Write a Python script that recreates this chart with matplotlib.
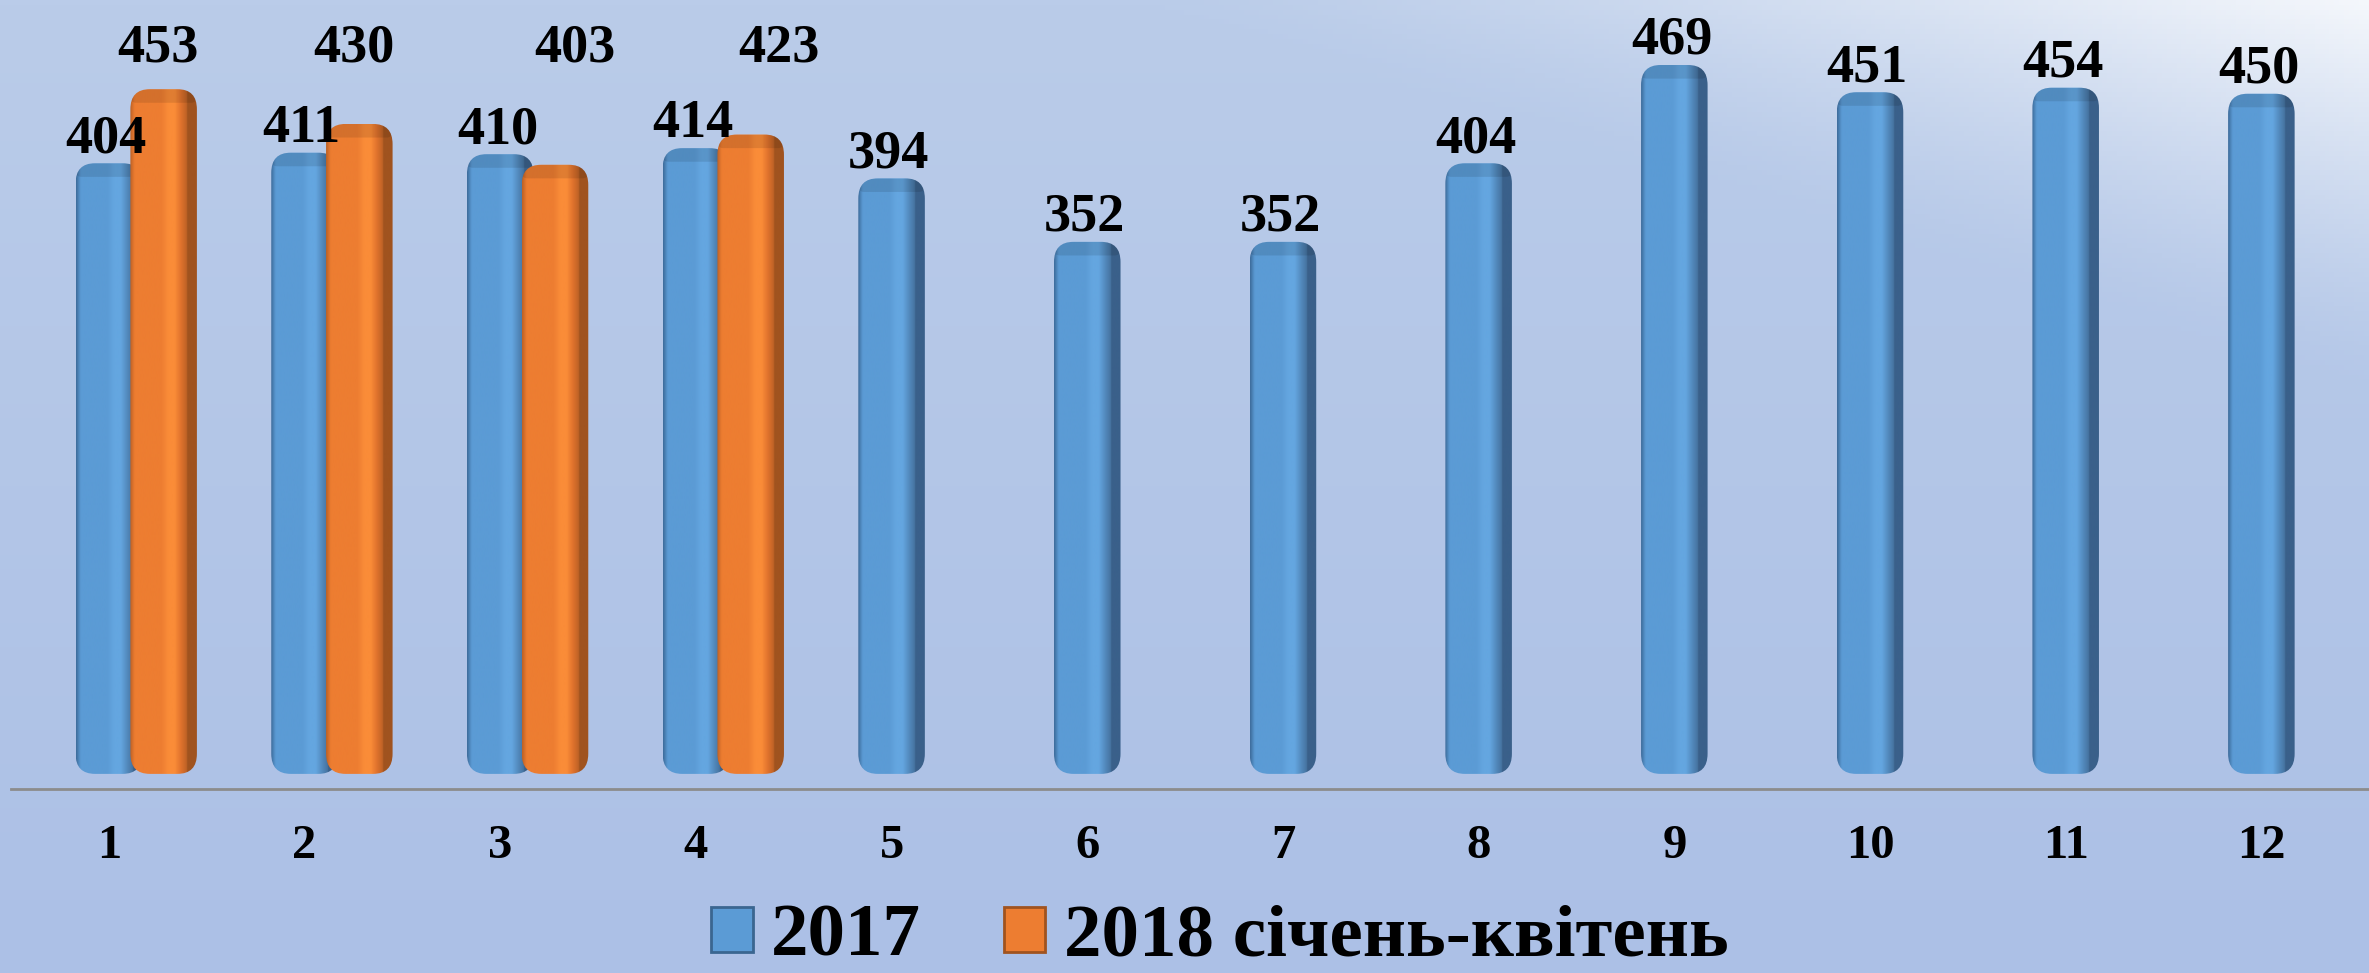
import numpy as np
import matplotlib
matplotlib.use('Agg')
import matplotlib.pyplot as plt
from matplotlib.patches import FancyBboxPatch, Rectangle

months = [1, 2, 3, 4, 5, 6, 7, 8, 9, 10, 11, 12]
values_2017 = [404, 411, 410, 414, 394, 352, 352, 404, 469, 451, 454, 450]
values_2018 = [453, 430, 403, 423]
label_2017 = '2017'
label_2018 = '2018 січень-квітень'

W, H = 2369, 973
FONT = 'Liberation Serif'

# colour profile across a bar (left edge -> lit strip -> dark side)
stops = [0.0, 0.07, 0.47, 0.57, 0.67, 0.76, 0.85, 0.86, 1.0]
blue_cols = [(62, 109, 156), (91, 155, 213), (91, 155, 213), (100, 166, 224),
             (100, 166, 224), (84, 140, 192), (70, 115, 160), (58, 96, 138), (58, 96, 138)]
orange_cols = [(190, 98, 38), (237, 125, 49), (237, 125, 49), (250, 140, 56),
               (250, 140, 56), (225, 115, 45), (190, 98, 38), (160, 83, 31), (160, 83, 31)]

# the 2018 labels were hand-placed in the original, nudged sideways (points)
label_nudge_2018 = [-4, -4, 14, 20]


def gradient_row(cols, n=120):
    t = np.linspace(0, 1, n)
    cols = np.array(cols) / 255.0
    row = np.stack([np.interp(t, stops, cols[:, k]) for k in range(3)], axis=-1)
    return row[np.newaxis, :, :]


def draw_bar(ax, xc, h, width, cols, z):
    x0 = xc - width / 2
    style = 'round,pad=0,rounding_size=0.1'
    patch = FancyBboxPatch((x0, 0), width, h, boxstyle=style,
                           mutation_aspect=133, facecolor='none',
                           edgecolor='none', zorder=z)
    ax.add_patch(patch)
    img = ax.imshow(gradient_row(cols), extent=[x0, x0 + width, 0, h],
                    aspect='auto', interpolation='bilinear', zorder=z)
    img.set_clip_path(patch)
    # darker top bevel
    cap = FancyBboxPatch((x0, h - 9), width, 9, boxstyle='round,pad=0,rounding_size=0.03',
                         mutation_aspect=133, facecolor='black', alpha=0.10,
                         edgecolor='none', zorder=z + 0.1)
    ax.add_patch(cap)
    cap.set_clip_path(patch)


fig = plt.figure(figsize=(W / 100, H / 100), dpi=100)

# background gradient
bg = fig.add_axes([0, 0, 1, 1], zorder=-10)
yy, xx = np.mgrid[0:1:200j, 0:1:480j]
top = np.array([186, 204, 233]) / 255.0
bot = np.array([172, 192, 230]) / 255.0
base = top[None, None, :] * (1 - yy[..., None]) + bot[None, None, :] * yy[..., None]
L = xx - 1.3 * yy
w = np.clip((L - 0.48) / 0.52, 0, 1) ** 1.4 * 0.85
img = base + w[..., None] * (1 - base)
bg.imshow(img, extent=[0, 1, 0, 1], aspect='auto', origin='upper')
bg.axis('off')

ax = fig.add_axes([11 / W, (H - 789) / H, (W - 11) / W, 789 / H])
ax.patch.set_alpha(0)

bar_w = 0.34
offset = 0.28
x = np.array(months, dtype=float)

for xi, v in zip(x, values_2017):
    draw_bar(ax, xi, v, bar_w, blue_cols, 2)
    ax.annotate(str(v), (xi, v), xytext=(-2, 8), textcoords='offset points',
                ha='center', va='baseline', fontsize=39, fontweight='bold',
                family=FONT, zorder=5)

for xi, v, dx in zip(x[:len(values_2018)] + offset, values_2018, label_nudge_2018):
    draw_bar(ax, xi, v, bar_w, orange_cols, 3)
    ax.annotate(str(v), (xi, 471), xytext=(dx, 0), textcoords='offset points',
                ha='center', va='baseline', fontsize=39, fontweight='bold',
                family=FONT, zorder=5)

ax.set_xlim(0.5, 12.55)
ax.set_ylim(-10, 512)
ax.set_xticks(months)
ax.set_xticklabels([str(m) for m in months], fontsize=35, fontweight='bold',
                   family=FONT)
ax.set_yticks([])
ax.tick_params(axis='x', length=0, pad=25)
for s in ['top', 'right', 'left']:
    ax.spines[s].set_visible(False)
ax.spines['bottom'].set_color('#8c8c8c')
ax.spines['bottom'].set_linewidth(2)

handles = [Rectangle((0, 0), 1, 1, facecolor='#5b9bd5', edgecolor='#3a6690', lw=2),
           Rectangle((0, 0), 1, 1, facecolor='#ed7d31', edgecolor='#a0531f', lw=2)]
fig.legend(handles, [label_2017, label_2018], loc='center',
           bbox_to_anchor=(1220 / W, 0.036), ncol=2, frameon=False,
           prop={'family': FONT, 'weight': 'bold', 'size': 54},
           handlelength=0.55, handleheight=0.55, handletextpad=0.25,
           columnspacing=1.1, borderpad=0.1)

fig.savefig('out.png', dpi=100)
